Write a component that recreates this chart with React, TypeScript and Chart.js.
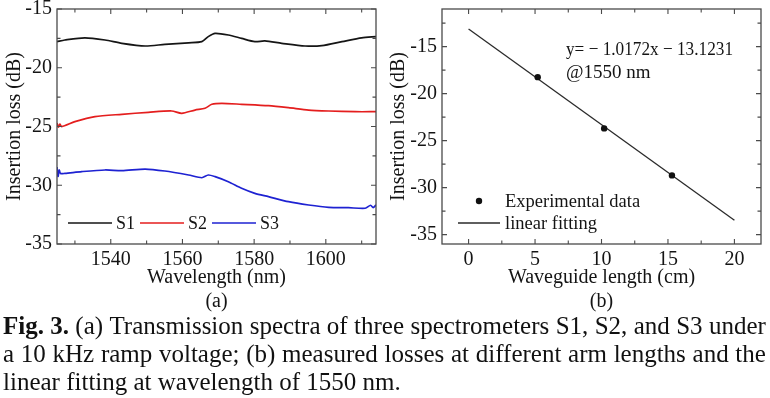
import React, { useEffect, useRef } from "react";
import { Chart, registerables } from "chart.js";

Chart.register(...registerables);

const FONT = "'Liberation Serif', 'Times New Roman', serif";
const INK = "#141414";

// ---------- Panel (a): transmission spectra ----------
const s1Wavelength = [1525, 1527.2, 1532.8, 1538.4, 1543.1, 1549.6, 1555.1, 1561.7, 1565.4, 1567.2, 1569.1, 1572.8, 1576.5, 1580.2, 1583.0, 1587.7, 1594.2, 1598.9, 1604.5, 1610.0, 1614];
const s1Loss = [-17.78, -17.64, -17.45, -17.64, -17.92, -18.15, -18.01, -17.88, -17.78, -17.35, -17.07, -17.21, -17.5, -17.78, -17.72, -17.92, -18.15, -18.12, -17.78, -17.45, -17.35];

const s2Wavelength = [1525, 1525.4, 1525.8, 1526.3, 1530.0, 1535.6, 1543.1, 1550.5, 1557.0, 1559.8, 1563.5, 1566.3, 1568.2, 1571.0, 1576.5, 1584.0, 1589.6, 1595.2, 1600.8, 1608.2, 1614];
const s2Loss = [-24.7, -25.05, -24.8, -25.01, -24.59, -24.16, -23.96, -23.79, -23.68, -23.88, -23.6, -23.45, -23.11, -23.03, -23.11, -23.23, -23.4, -23.6, -23.68, -23.74, -23.74];

const s3Wavelength = [1525, 1525.3, 1525.6, 1526.0, 1527.2, 1531.9, 1538.4, 1543.1, 1549.6, 1555.1, 1561.7, 1565.4, 1567.2, 1569.1, 1572.8, 1576.5, 1580.2, 1584.0, 1589.6, 1595.2, 1600.8, 1606.3, 1611.0, 1612.5, 1613.2, 1614];
const s3Loss = [-28.45, -29.25, -28.7, -29.0, -28.99, -28.84, -28.7, -28.76, -28.62, -28.79, -29.13, -29.36, -29.13, -29.27, -29.7, -30.26, -30.69, -30.97, -31.4, -31.68, -31.88, -31.91, -31.96, -31.7, -31.9, -31.68];

const seriesLabels = ["S1", "S2", "S3"];
const seriesColors = ["#151515", "#e41e1e", "#1e22d2"];

const aXRange = [1525, 1614];
const aYRange = [-35, -15];
const aXTicks = [1540, 1560, 1580, 1600];
const aXMinor = [1530, 1550, 1570, 1590, 1610];
const aYTicks = [-35, -30, -25, -20, -15];
const aYMinor = [-32.5, -27.5, -22.5, -17.5];

// ---------- Panel (b): loss vs waveguide length ----------
const expLength = [5.2, 10.2, 15.3];
const expLoss = [-18.25, -23.7, -28.7];
const fitLength = [0, 20];
const fitLoss = [-13.12, -33.47];

const bXRange = [-2, 22];
const bYRange = [-36, -11];
const bXTicks = [0, 5, 10, 15, 20];
const bXMinor = [2.5, 7.5, 12.5, 17.5];
const bYTicks = [-35, -30, -25, -20, -15];
const bYMinor = [-32.5, -27.5, -22.5, -17.5, -12.5];

const fitEquation = ["y= \u2212 1.0172x \u2212 13.1231", "@1550 nm"];

const captionLines: string[][] = [
  ["(a)", "Transmission", "spectra", "of", "three", "spectrometers", "S1,", "S2,", "and", "S3", "under"],
  ["a", "10", "kHz", "ramp", "voltage;", "(b)", "measured", "losses", "at", "different", "arm", "lengths", "and", "the"],
  ["linear fitting at wavelength of 1550 nm."],
];

// ---------- plugins ----------
const frameTicksPlugin = {
  id: "frameTicks",
  afterDatasetsDraw(chart: any, _a: any, opts: any) {
    const { ctx, chartArea } = chart;
    const { left, right, top, bottom } = chartArea;
    const x = chart.scales.x;
    const y = chart.scales.y;
    ctx.save();
    ctx.strokeStyle = "#4a4a4a";
    ctx.lineWidth = 1.3;
    ctx.strokeRect(left, top, right - left, bottom - top);
    ctx.lineWidth = 1.1;
    const tx = (vals: number[], len: number) => {
      vals.forEach((v) => {
        const p = x.getPixelForValue(v);
        ctx.beginPath();
        ctx.moveTo(p, bottom);
        ctx.lineTo(p, bottom - len);
        ctx.moveTo(p, top);
        ctx.lineTo(p, top + len);
        ctx.stroke();
      });
    };
    const ty = (vals: number[], len: number) => {
      vals.forEach((v) => {
        const p = y.getPixelForValue(v);
        ctx.beginPath();
        ctx.moveTo(left, p);
        ctx.lineTo(left + len, p);
        ctx.moveTo(right, p);
        ctx.lineTo(right - len, p);
        ctx.stroke();
      });
    };
    tx(opts.xMajor, 5);
    tx(opts.xMinor, 3.5);
    ty(opts.yMajor, 5);
    ty(opts.yMinor, 3.5);
    ctx.restore();
  },
};

const inlineLegendPlugin = {
  id: "inlineLegend",
  afterDraw(chart: any, _a: any, opts: any) {
    const { ctx, chartArea } = chart;
    ctx.save();
    ctx.font = `${opts.fontSize}px ${FONT}`;
    ctx.textBaseline = "middle";
    ctx.textAlign = "left";
    (opts.items || []).forEach((item: any) => {
      const ds = chart.data.datasets[item.dataset];
      const x0 = chartArea.left + item.dx;
      const yy = chartArea.bottom - item.dy;
      if (item.kind === "dot") {
        ctx.fillStyle = ds.backgroundColor;
        ctx.beginPath();
        ctx.arc(x0 + item.len / 2, yy, ds.pointRadius, 0, Math.PI * 2);
        ctx.fill();
      } else {
        ctx.strokeStyle = ds.borderColor;
        ctx.lineWidth = 1.4;
        ctx.beginPath();
        ctx.moveTo(x0, yy);
        ctx.lineTo(x0 + item.len, yy);
        ctx.stroke();
      }
      ctx.fillStyle = INK;
      ctx.fillText(ds.label, x0 + item.len + item.gap, yy + 1);
    });
    (opts.notes || []).forEach((n: any) => {
      ctx.fillStyle = INK;
      ctx.font = `${n.size}px ${FONT}`;
      ctx.fillText(n.text, chartArea.left + n.dx, chartArea.top + n.dy, n.maxWidth);
    });
    ctx.restore();
  },
};

function axisBase(range: number[], ticks: number[], title: any, isX: boolean) {
  return {
    type: "linear",
    min: range[0],
    max: range[1],
    grid: { display: false, drawTicks: false },
    border: { display: false },
    ticks: {
      color: INK,
      font: { family: FONT, size: 20 },
      padding: isX ? 4 : 5,
      maxRotation: 0,
      autoSkip: false,
      callback: (v: any) => String(v),
    },
    afterBuildTicks: (s: any) => {
      s.ticks = ticks.map((v) => ({ value: v }));
    },
    afterFit: (s: any) => {
      if (isX) s.height = 70;
      else s.width = 57;
      s.paddingTop = 0;
      s.paddingBottom = 0;
      s.paddingLeft = 0;
      s.paddingRight = 0;
    },
    title,
  };
}

function baseOptions(scales: any, plugins: any) {
  return {
    responsive: false,
    maintainAspectRatio: false,
    animation: false,
    devicePixelRatio: 1,
    layout: { padding: { top: 9, right: 9, left: 0, bottom: 0 } },
    scales,
    plugins: {
      legend: { display: false },
      tooltip: { enabled: false },
      ...plugins,
    },
  };
}

function SpectraChart() {
  const ref = useRef<HTMLCanvasElement | null>(null);
  useEffect(() => {
    if (!ref.current) return;
    const xs = [s1Wavelength, s2Wavelength, s3Wavelength];
    const ys = [s1Loss, s2Loss, s3Loss];
    const chart = new Chart(ref.current, {
      type: "line",
      data: {
        datasets: seriesLabels.map((label, i) => ({
          label,
          data: xs[i].map((x, j) => ({ x, y: ys[i][j] })),
          borderColor: seriesColors[i],
          backgroundColor: seriesColors[i],
          borderWidth: 1.7,
          pointRadius: 0,
          tension: 0.25,
        })),
      },
      options: baseOptions(
        {
          x: axisBase(aXRange, aXTicks, {
            display: true,
            text: ["Wavelength (nm)", "(a)"],
            color: INK,
            font: { family: FONT, size: 20 },
            padding: { top: 0, bottom: 0 },
          }, true),
          y: axisBase(aYRange, aYTicks, {
            display: true,
            text: "Insertion loss (dB)",
            color: INK,
            font: { family: FONT, size: 20 },
            padding: { top: 3, bottom: 0 },
          }, false),
        },
        {
          frameTicks: { xMajor: aXTicks, xMinor: aXMinor, yMajor: aYTicks, yMinor: aYMinor },
          inlineLegend: {
            fontSize: 18,
            items: [
              { dataset: 0, kind: "line", dx: 11, dy: 21, len: 44, gap: 4 },
              { dataset: 1, kind: "line", dx: 83, dy: 21, len: 44, gap: 4 },
              { dataset: 2, kind: "line", dx: 155, dy: 21, len: 44, gap: 4 },
            ],
          },
        }
      ) as any,
      plugins: [frameTicksPlugin, inlineLegendPlugin],
    } as any);
    return () => chart.destroy();
  }, []);
  return <canvas ref={ref} width={385} height={314} style={{ position: "absolute", left: 0, top: 0 }} />;
}

function LossChart() {
  const ref = useRef<HTMLCanvasElement | null>(null);
  useEffect(() => {
    if (!ref.current) return;
    const chart = new Chart(ref.current, {
      type: "scatter",
      data: {
        datasets: [
          {
            label: "Experimental data",
            data: expLength.map((x, i) => ({ x, y: expLoss[i] })),
            backgroundColor: "#111",
            borderWidth: 0,
            pointRadius: 3.2,
          },
          {
            label: "linear fitting",
            data: fitLength.map((x, i) => ({ x, y: fitLoss[i] })),
            showLine: true,
            borderColor: "#2a2a2a",
            backgroundColor: "#2a2a2a",
            borderWidth: 1.3,
            pointRadius: 0,
          },
        ],
      },
      options: baseOptions(
        {
          x: axisBase(bXRange, bXTicks, {
            display: true,
            text: ["Waveguide length (cm)", "(b)"],
            color: INK,
            font: { family: FONT, size: 20 },
            padding: { top: 0, bottom: 0 },
          }, true),
          y: axisBase(bYRange, bYTicks, {
            display: true,
            text: "Insertion loss (dB)",
            color: INK,
            font: { family: FONT, size: 20 },
            padding: { top: 2, bottom: 0 },
          }, false),
        },
        {
          frameTicks: { xMajor: bXTicks, xMinor: bXMinor, yMajor: bYTicks, yMinor: bYMinor },
          inlineLegend: {
            fontSize: 18.5,
            items: [
              { dataset: 0, kind: "dot", dx: 16, dy: 43, len: 42, gap: 5 },
              { dataset: 1, kind: "line", dx: 16, dy: 21, len: 42, gap: 5 },
            ],
            notes: [
              { text: fitEquation[0], dx: 124, dy: 41, size: 19, maxWidth: 167 },
              { text: fitEquation[1], dx: 124, dy: 64, size: 19, maxWidth: 200 },
            ],
          },
        }
      ) as any,
      plugins: [frameTicksPlugin, inlineLegendPlugin],
    } as any);
    return () => chart.destroy();
  }, []);
  return <canvas ref={ref} width={385} height={314} style={{ position: "absolute", left: 385, top: 0 }} />;
}

function CaptionLine({ words, bold, justify }: { words: string[]; bold?: string; justify: boolean }) {
  return (
    <div
      style={{
        display: "flex",
        justifyContent: justify ? "space-between" : "flex-start",
        whiteSpace: "nowrap",
        height: 28,
        gap: justify ? 0 : 6,
      }}
    >
      {bold ? <span style={{ fontWeight: "bold" }}>{bold}</span> : null}
      {words.map((w, i) => (
        <span key={i}>{w}</span>
      ))}
    </div>
  );
}

export default function App() {
  return (
    <div style={{ position: "fixed", left: 0, top: 0, width: 770, height: 398, background: "#fff", overflow: "hidden" }}>
      <SpectraChart />
      <LossChart />
      <div
        style={{
          position: "absolute",
          left: 3,
          top: 312,
          width: 763,
          fontFamily: FONT,
          fontSize: 25,
          lineHeight: "28px",
          color: "#111",
        }}
      >
        <CaptionLine bold="Fig. 3." words={captionLines[0]} justify={true} />
        <CaptionLine words={captionLines[1]} justify={true} />
        <CaptionLine words={captionLines[2]} justify={false} />
      </div>
    </div>
  );
}
